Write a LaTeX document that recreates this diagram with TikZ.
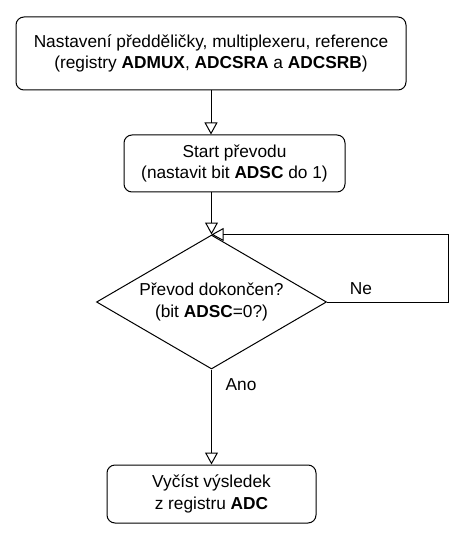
\documentclass[tikz,border=0pt]{standalone}
\usepackage{fontspec}
\setmainfont{Liberation Sans}
\usetikzlibrary{positioning}
\usetikzlibrary{calc}
\usetikzlibrary{shapes.geometric,arrows.meta}

\begin{document}
\begin{tikzpicture}[x=1pt,y=-1pt]
\tikzstyle{stepbox} =[rectangle,rounded corners=8pt,draw=black,line width=1pt,align=center,inner sep=0pt,font=\fontsize{17.3}{21.5}\selectfont]
\tikzstyle{decision} =[diamond,draw=black,line width=1pt,align=center,inner sep=0pt,aspect=1.72,font=\fontsize{17.3}{21.5}\selectfont]
\tikzstyle{flow} =[line width=1pt,-{Triangle[open,width=13pt,length=12pt,line width=1pt]}]
\tikzstyle{lbl} =[font=\fontsize{17.3}{21.5}\selectfont]
\useasboundingbox (0,0) rectangle (472,537);

\node[stepbox,minimum width=390,minimum height=73](set) at (211,53.5)
  {Nastavení předděličky, multiplexeru, reference\\(registry \textbf{ADMUX}, \textbf{ADCSRA} a \textbf{ADCSRB})};
\node[stepbox,minimum width=221,minimum height=57](start) at (234.5,163.5)
  {Start převodu\\(nastavit bit \textbf{ADSC} do 1)};
\node[decision,minimum width=230,minimum height=134](done) at (211.5,302)
  {Převod dokončen?\\(bit \textbf{ADSC}=0?)};
\node[stepbox,minimum width=209,minimum height=58](read) at (211.5,494)
  {Vyčíst výsledek\\z registru \textbf{ADC}};

\draw[flow] (set.south) -- (set.south |- start.north);
\draw[flow] (done.north |- start.south) -- (done.north);
\draw[flow] (done.east) -| ($(done.north)+(236.5,0)$) -- (done.north);
\draw[flow] (done.south) -- (read.north);

\node[lbl](ne) at (361,289) {Ne};
\node[lbl](ano) at (241,385) {Ano};
\end{tikzpicture}
\end{document}
